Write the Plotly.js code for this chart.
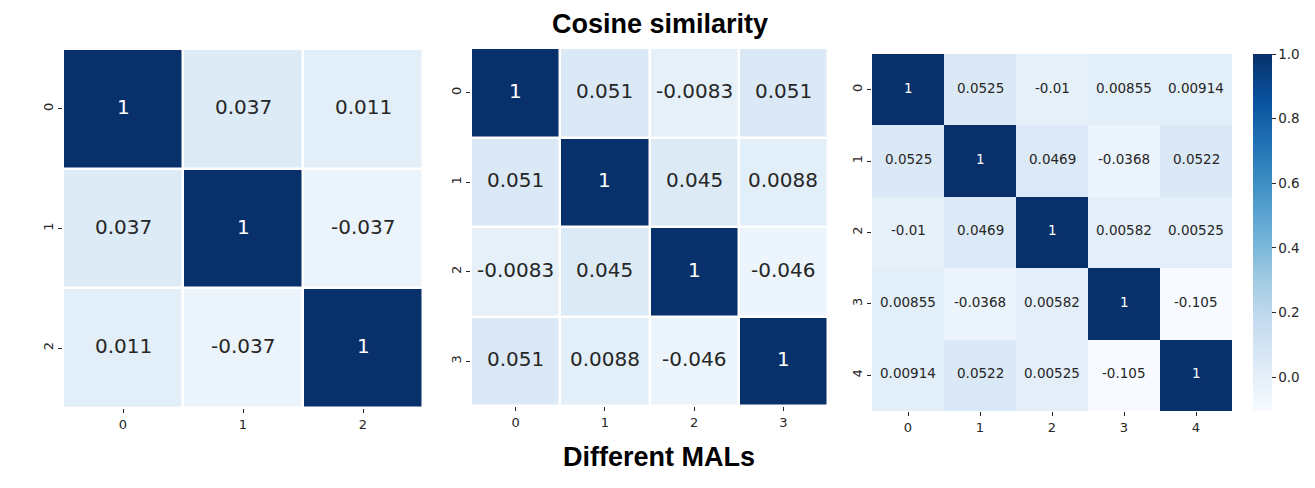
<!DOCTYPE html>
<html>
<head>
<meta charset="utf-8">
<script src="https://cdn.plot.ly/plotly-3.0.1.min.js"></script>
<style>html,body{margin:0;padding:0;background:#fff;}#chart{width:1315px;height:488px;}</style>
</head>
<body>
<div id="chart"></div>
<script>
// ---- data ----
const labels3 = ["0", "1", "2"];
const labels4 = ["0", "1", "2", "3"];
const labels5 = ["0", "1", "2", "3", "4"];

const simA = [
  [1, 0.037, 0.011],
  [0.037, 1, -0.037],
  [0.011, -0.037, 1]
];
const textA = [
  ["1", "0.037", "0.011"],
  ["0.037", "1", "-0.037"],
  ["0.011", "-0.037", "1"]
];

const simB = [
  [1, 0.051, -0.0083, 0.051],
  [0.051, 1, 0.045, 0.0088],
  [-0.0083, 0.045, 1, -0.046],
  [0.051, 0.0088, -0.046, 1]
];
const textB = [
  ["1", "0.051", "-0.0083", "0.051"],
  ["0.051", "1", "0.045", "0.0088"],
  ["-0.0083", "0.045", "1", "-0.046"],
  ["0.051", "0.0088", "-0.046", "1"]
];

const simC = [
  [1, 0.0525, -0.01, 0.00855, 0.00914],
  [0.0525, 1, 0.0469, -0.0368, 0.0522],
  [-0.01, 0.0469, 1, 0.00582, 0.00525],
  [0.00855, -0.0368, 0.00582, 1, -0.105],
  [0.00914, 0.0522, 0.00525, -0.105, 1]
];
const textC = [
  ["1", "0.0525", "-0.01", "0.00855", "0.00914"],
  ["0.0525", "1", "0.0469", "-0.0368", "0.0522"],
  ["-0.01", "0.0469", "1", "0.00582", "0.00525"],
  ["0.00855", "-0.0368", "0.00582", "1", "-0.105"],
  ["0.00914", "0.0522", "0.00525", "-0.105", "1"]
];

const colorbarTicks = [0, 0.2, 0.4, 0.6, 0.8, 1.0];
const colorbarTickText = ["0.0", "0.2", "0.4", "0.6", "0.8", "1.0"];

const titleTop = "Cosine similarity";
const titleBottom = "Different MALs";

// ---- style ----
const blues = [
  [0.0, "#f7fbff"], [0.125, "#deebf7"], [0.25, "#c6dbef"], [0.375, "#9ecae1"],
  [0.5, "#6baed6"], [0.625, "#4292c6"], [0.75, "#2171b5"], [0.875, "#08519c"], [1.0, "#08306b"]
];
const W = 1315, H = 488;
function px2x(p) { return p / W; }
function px2y(p) { return 1 - p / H; }

const panels = [
  { z: simA, t: textA, lab: labels3, box: [63, 423, 49, 408], gap: 2.5, fs: 20, bar: false },
  { z: simB, t: textB, lab: labels4, box: [471, 828, 48, 406], gap: 2.5, fs: 20, bar: false },
  { z: simC, t: textC, lab: labels5, box: [872, 1232, 54, 411], gap: 0, fs: 13.5, bar: true }
];

// shared colour range across all panels
const allVals = panels.map(p => p.z.flat()).flat();
const zmin = Math.min(...allVals);
const zmax = Math.max(...allVals);

const data = [];
const layout = {
  width: W, height: H,
  margin: { l: 0, r: 0, t: 0, b: 0 },
  paper_bgcolor: "#fff", plot_bgcolor: "#fff",
  showlegend: false,
  annotations: [],
  font: { family: "DejaVu Sans", color: "#262626", size: 13 }
};

panels.forEach((p, i) => {
  const k = i === 0 ? "" : String(i + 1);
  const tr = {
    type: "heatmap",
    z: p.z,
    x: p.lab, y: p.lab,
    xaxis: "x" + k, yaxis: "y" + k,
    colorscale: blues, zmin: zmin, zmax: zmax,
    xgap: p.gap, ygap: p.gap,
    showscale: p.bar,
    hoverinfo: "skip"
  };
  if (p.bar) {
    tr.colorbar = {
      x: px2x(1253), xanchor: "left", xref: "paper",
      y: px2y(411), yanchor: "bottom", len: (411 - 54) / H, lenmode: "fraction",
      xpad: 0, ypad: 0,
      thickness: 19, thicknessmode: "pixels",
      outlinewidth: 0,
      tickmode: "array", tickvals: colorbarTicks,
      ticktext: colorbarTickText,
      ticks: "outside", ticklen: 4, tickwidth: 1, tickcolor: "#262626",
      tickfont: { family: "DejaVu Sans", size: 13.5, color: "#262626" }
    };
  }
  data.push(tr);
  layout["xaxis" + k] = {
    domain: [px2x(p.box[0]), px2x(p.box[1])],
    anchor: "y" + k,
    type: "category",
    showgrid: false, zeroline: false, showline: false,
    ticks: "outside", ticklen: 4, tickwidth: 1, tickcolor: "#262626",
    tickfont: { family: "DejaVu Sans", size: 13, color: "#262626" },
    fixedrange: true
  };
  layout["yaxis" + k] = {
    domain: [px2y(p.box[3]), px2y(p.box[2])],
    anchor: "x" + k,
    type: "category",
    autorange: "reversed",
    showgrid: false, zeroline: false, showline: false,
    ticks: "outside", ticklen: 4, tickwidth: 1, tickcolor: "#262626",
    tickangle: -90,
    tickfont: { family: "DejaVu Sans", size: 13, color: "#262626" },
    fixedrange: true
  };
  // cell annotations
  for (let r = 0; r < p.z.length; r++) {
    for (let c = 0; c < p.z[r].length; c++) {
      const frac = (p.z[r][c] - zmin) / (zmax - zmin);
      layout.annotations.push({
        xref: "x" + k, yref: "y" + k,
        x: p.lab[c], y: p.lab[r], yshift: 2,
        text: p.t[r][c], showarrow: false,
        font: { family: "DejaVu Sans", size: p.fs, color: frac > 0.6 ? "#ffffff" : "#262626" }
      });
    }
  }
});

layout.annotations.push({
  xref: "paper", yref: "paper", x: px2x(660), y: px2y(24), yanchor: "middle",
  text: "<b>" + titleTop + "</b>", showarrow: false,
  font: { family: "Liberation Sans", size: 27, color: "#000" }
});
layout.annotations.push({
  xref: "paper", yref: "paper", x: px2x(659), y: px2y(457), yanchor: "middle",
  text: "<b>" + titleBottom + "</b>", showarrow: false,
  font: { family: "Liberation Sans", size: 27, color: "#000" }
});

Plotly.newPlot("chart", data, layout, { displayModeBar: false, staticPlot: true });
</script>
</body>
</html>
